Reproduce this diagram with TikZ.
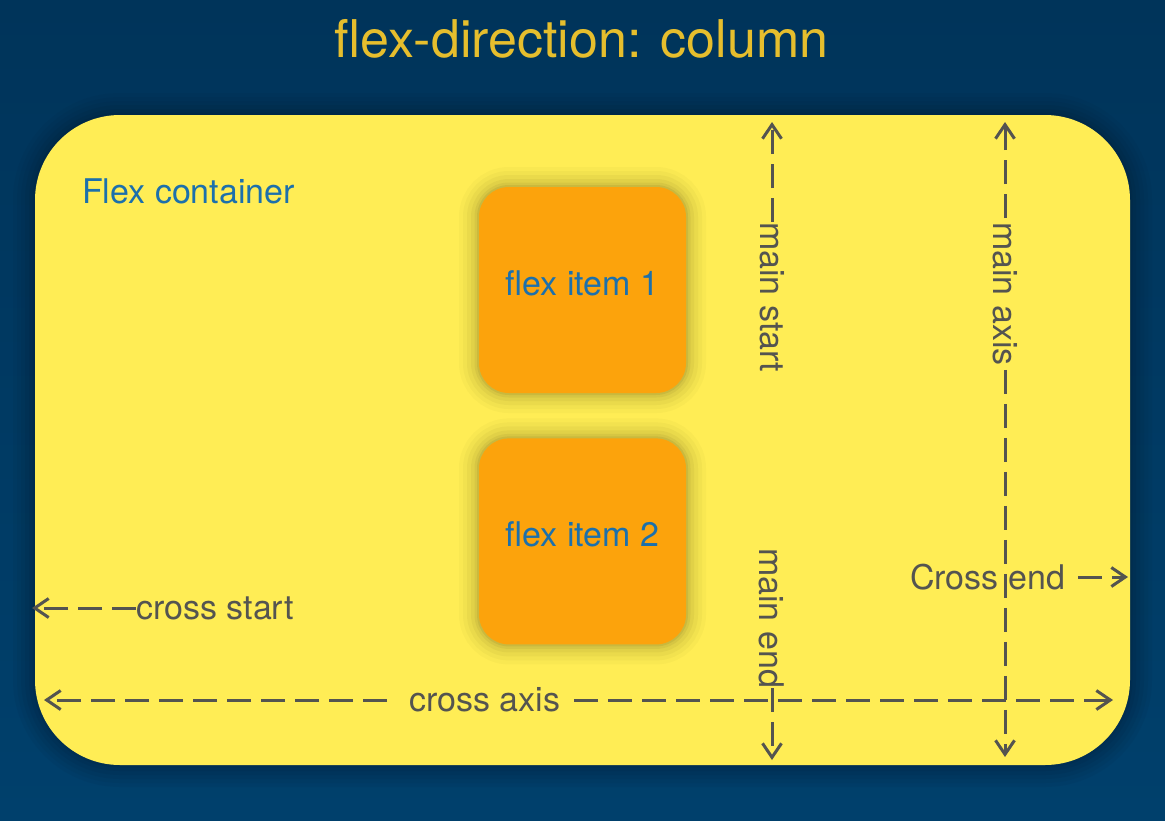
\documentclass[tikz,border=0pt]{standalone}
\usepackage{fontspec}
\setmainfont{TeX Gyre Heros}
\usepackage{tikz}
\usetikzlibrary{positioning}
\usetikzlibrary{arrows.meta}
\definecolor{navydark}{RGB}{0,52,90}
\definecolor{navylight}{RGB}{0,64,108}
\definecolor{navyshade}{RGB}{0,22,40}
\definecolor{boxyellow}{RGB}{255,237,85}
\definecolor{itemorange}{RGB}{252,163,12}
\definecolor{itemblue}{RGB}{28,112,172}
\definecolor{titlegold}{RGB}{230,190,45}
\definecolor{axisgrey}{RGB}{84,84,80}
\definecolor{itemshade}{RGB}{90,80,20}
\tikzset{
	axislabel/.style={font=\fontsize{34}{40}\selectfont, text=axisgrey, inner sep=0pt},
	axisline/.style={draw=axisgrey, line width=3pt, dash pattern=on 24pt off 10pt, -{Straight Barb[length=14pt,width=19pt]}},
	flexbox/.style={fill=boxyellow, rounded corners=85pt, minimum width=1095pt, minimum height=650pt,
		preaction={draw=navyshade, line width=44pt, opacity=0.05},
		preaction={draw=navyshade, line width=36pt, opacity=0.05},
		preaction={draw=navyshade, line width=28pt, opacity=0.06},
		preaction={draw=navyshade, line width=20pt, opacity=0.07},
		preaction={draw=navyshade, line width=12pt, opacity=0.08},
		preaction={draw=navyshade, line width=5pt, opacity=0.1}},
	flexitem/.style={fill=itemorange, rounded corners=30pt, minimum width=207pt, minimum height=206pt, inner sep=0pt,
		text=itemblue, font=\fontsize{34}{40}\selectfont, text height=25pt, text depth=15pt,
		preaction={draw=itemshade, line width=40pt, opacity=0.03},
		preaction={draw=itemshade, line width=32pt, opacity=0.04},
		preaction={draw=itemshade, line width=24pt, opacity=0.05},
		preaction={draw=itemshade, line width=16pt, opacity=0.06},
		preaction={draw=itemshade, line width=9pt, opacity=0.08},
		preaction={draw=itemshade, line width=4pt, opacity=0.1}},
}

\begin{document}
\begin{tikzpicture}[x=1pt, y=-1pt]
		\useasboundingbox (0,0) rectangle (1165,820);
		\shade[top color=navydark, bottom color=navylight] (0,0) rectangle (1165,820);
		\node[text=titlegold, font=\fontsize{52}{60}\selectfont, inner sep=0pt, anchor=base] (title) at (581.5,57) {flex-direction: column};
		% container and items
		\node[flexbox] (container) at (582.5,440) {};
		\node[text=itemblue, font=\fontsize{34}{40}\selectfont, inner sep=0pt, anchor=base west] (contlabel) at (82,203) {Flex container};
		\node[flexitem] (item1) at (582.5,290) {flex item 1};
		\node[flexitem, below=45pt of item1] (item2) {flex item 2};
		% main axis labels
		\coordinate (msTop) at (772,122);
		\node[axislabel, rotate=-90, anchor=west] (mstart) at (772,222) {main start};
		\draw[axisline] (mstart.west) -- (msTop);
		\node[axislabel, rotate=-90, anchor=west] (mend) at (772,548) {main end};
		\coordinate (meBot) at (772,760);
		\draw[axisline] (mend.east) -- (meBot);
		\node[axislabel, anchor=west] (cend) at (910,577) {Cross end};
		\coordinate (ceRight) at (1128,577);
		\draw[axisline, shorten <=13pt] (cend.east) -- (ceRight);
		\coordinate (maTop) at (1005,122);
		\node[axislabel, rotate=-90, anchor=west] (maxis) at (1005,222) {main axis};
		\coordinate (maBot) at (1005,757);
		\draw[axisline, shorten <=4pt] (maxis.west) -- (maTop);
		\draw[axisline, shorten <=4pt] (maxis.east) -- (maBot);
		% cross axis labels
		\node[axislabel, anchor=west] (cstart) at (136,608) {cross start};
		\coordinate (csLeft) at (32,608);
		\draw[axisline] (cstart.west) -- (csLeft);
		\node[axislabel, anchor=west] (caxis) at (409,700) {cross axis};
		\coordinate (caLeft) at (44,700);
		\coordinate (caRight) at (1113,700);
		\draw[axisline, shorten <=22pt] (caxis.west) -- (caLeft);
		\draw[axisline, shorten <=14pt] (caxis.east) -- (caRight);
	\end{tikzpicture}
\end{document}
